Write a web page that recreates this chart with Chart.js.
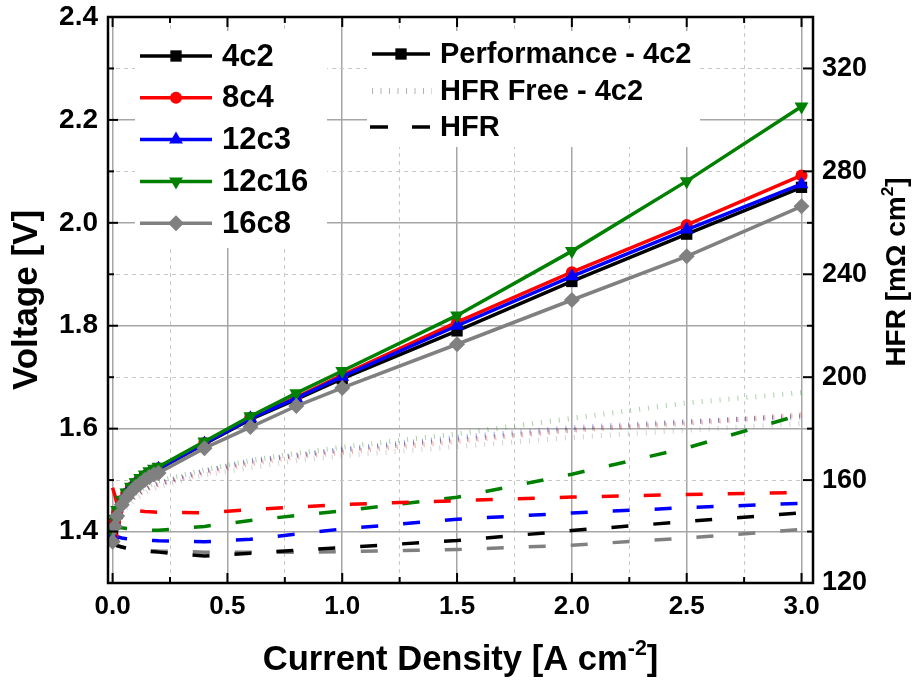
<!DOCTYPE html>
<html>
<head>
<meta charset="utf-8">
<script src="https://cdn.jsdelivr.net/npm/chart.js@4.4.1/dist/chart.umd.min.js"></script>
<style>
	html, body { margin: 0; padding: 0; background: #fff; }
</style>
</head>
<body>
<canvas id="polarization-chart" width="913" height="685"></canvas>
<script>
// current density [A cm-2]
const currentDensity = [0, 0.01, 0.02, 0.04, 0.06, 0.08, 0.1, 0.12, 0.14, 0.16, 0.18, 0.2, 0.4, 0.6, 0.8, 1.0, 1.5, 2.0, 2.5, 3.0];

// cell voltage [V]
const voltage4c2 = [1.39, 1.415, 1.435, 1.458, 1.472, 1.483, 1.492, 1.499, 1.506, 1.512, 1.517, 1.521, 1.570, 1.618, 1.657, 1.697, 1.790, 1.886, 1.978, 2.069];
const voltage8c4 = [1.39, 1.418, 1.437, 1.460, 1.474, 1.485, 1.494, 1.501, 1.508, 1.514, 1.519, 1.523, 1.572, 1.621, 1.661, 1.704, 1.807, 1.904, 1.996, 2.092];
const voltage12c3 = [1.39, 1.416, 1.436, 1.459, 1.473, 1.484, 1.493, 1.500, 1.507, 1.513, 1.518, 1.522, 1.571, 1.620, 1.659, 1.701, 1.800, 1.896, 1.987, 2.075];
const voltage12c16 = [1.40, 1.425, 1.442, 1.462, 1.476, 1.487, 1.496, 1.504, 1.511, 1.517, 1.522, 1.526, 1.575, 1.624, 1.669, 1.712, 1.820, 1.945, 2.081, 2.226];
const voltage16c8 = [1.38, 1.410, 1.430, 1.452, 1.466, 1.477, 1.486, 1.493, 1.500, 1.506, 1.511, 1.514, 1.562, 1.603, 1.644, 1.679, 1.764, 1.850, 1.935, 2.032];

// HFR free voltage [V]
const hfrFree4c2 = [1.39, 1.41, 1.425, 1.443, 1.455, 1.464, 1.471, 1.477, 1.482, 1.487, 1.491, 1.494, 1.518, 1.535, 1.548, 1.558, 1.578, 1.598, 1.612, 1.626];
const hfrFree8c4 = [1.39, 1.41, 1.422, 1.440, 1.452, 1.461, 1.468, 1.474, 1.479, 1.484, 1.488, 1.491, 1.513, 1.532, 1.545, 1.554, 1.575, 1.597, 1.610, 1.627];
const hfrFree12c3 = [1.39, 1.41, 1.424, 1.442, 1.454, 1.463, 1.470, 1.476, 1.481, 1.486, 1.490, 1.493, 1.517, 1.538, 1.548, 1.560, 1.583, 1.602, 1.614, 1.622];
const hfrFree12c16 = [1.40, 1.418, 1.430, 1.446, 1.458, 1.467, 1.474, 1.480, 1.485, 1.490, 1.494, 1.498, 1.520, 1.538, 1.552, 1.564, 1.590, 1.620, 1.650, 1.670];
const hfrFree16c8 = [1.38, 1.40, 1.415, 1.435, 1.447, 1.456, 1.463, 1.469, 1.474, 1.479, 1.483, 1.487, 1.510, 1.524, 1.538, 1.547, 1.565, 1.583, 1.597, 1.610];

// HFR [mOhm cm2]
const hfr4c2 = [137, 135.5, 134.5, 134, 133.5, 133.2, 133, 132.7, 132.5, 132.3, 132.1, 132, 130.5, 131.6, 132.7, 133.8, 136.5, 140.4, 143.9, 147.3];
const hfr8c4 = [157, 154, 150.5, 149, 148.5, 148.2, 148, 148, 147.8, 147.7, 147.6, 147.5, 147.3, 148.5, 149.5, 150.5, 152, 153.4, 154.4, 155.2];
const hfr12c3 = [140, 139, 138, 137.5, 137.2, 137, 136.9, 136.8, 136.7, 136.6, 136.5, 136.4, 136, 137, 139, 141, 144.8, 147.2, 149.3, 151];
const hfr12c16 = [144, 143, 142, 141.5, 141.2, 141, 140.9, 140.8, 140.7, 140.6, 140.5, 140.5, 142, 144.3, 146.2, 148, 153.3, 162.3, 172.5, 185.5];
const hfr16c8 = [137, 135.5, 134.5, 134, 133.7, 133.4, 133.2, 133, 132.8, 132.6, 132.5, 132.4, 132, 132, 132, 132.2, 133, 134.7, 137.5, 140.8];

const xTicks = [0, 0.5, 1.0, 1.5, 2.0, 2.5, 3.0];
const voltageTicks = [1.4, 1.6, 1.8, 2.0, 2.2, 2.4];
const hfrTicks = [120, 160, 200, 240, 280, 320];

const FONT = "'Liberation Sans', Arial, Helvetica, sans-serif";

const cells = [
	{ label: '4c2', color: '#000000', faint: 'rgba(0,0,0,0.35)', style: 'rect', radius: 8, rotation: 0, v: voltage4c2, free: hfrFree4c2, hfr: hfr4c2, order: 5 },
	{ label: '8c4', color: '#ff0000', faint: 'rgba(255,0,0,0.35)', style: 'circle', radius: 6, rotation: 0, v: voltage8c4, free: hfrFree8c4, hfr: hfr8c4, order: 4 },
	{ label: '12c3', color: '#0000ff', faint: 'rgba(0,0,255,0.35)', style: 'triangle', radius: 8, rotation: 0, v: voltage12c3, free: hfrFree12c3, hfr: hfr12c3, order: 3 },
	{ label: '12c16', color: '#008000', faint: 'rgba(0,128,0,0.35)', style: 'triangle', radius: 8, rotation: 180, v: voltage12c16, free: hfrFree12c16, hfr: hfr12c16, order: 2 },
	{ label: '16c8', color: '#808080', faint: 'rgba(128,128,128,0.35)', style: 'rectRot', radius: 8, rotation: 0, v: voltage16c8, free: hfrFree16c8, hfr: hfr16c8, order: 1 },
];

const toPoints = (ys) => ys.map((y, i) => ({ x: currentDensity[i], y: y }));

const datasets = [];
cells.forEach((c) => {
	datasets.push({
		label: c.label,
		data: toPoints(c.v),
		yAxisID: 'y',
		borderColor: c.color,
		backgroundColor: c.color,
		borderWidth: 3.5,
		pointStyle: c.style,
		pointRadius: c.radius,
		pointRotation: c.rotation,
		pointBorderWidth: 0,
		order: c.order,
	});
	datasets.push({
		label: 'HFR Free ' + c.label,
		data: toPoints(c.free),
		yAxisID: 'y',
		borderColor: c.faint,
		borderWidth: 5,
		borderDash: [1, 8],
		pointRadius: 0,
		order: 30,
	});
	datasets.push({
		label: 'HFR ' + c.label,
		data: toPoints(c.hfr),
		yAxisID: 'y1',
		borderColor: c.color,
		borderWidth: 3.5,
		borderDash: [17, 25],
		pointRadius: 0,
		order: 20,
	});
});

const isMajor = (v, step) => Math.abs(v / step - Math.round(v / step)) < 1e-6;

function drawRich(ctx, parts, x, y, size) {
	// parts: [text, isSuperscript]
	const widths = parts.map(([t, sup]) => {
		ctx.font = 'bold ' + (sup ? size * 0.62 : size) + 'px ' + FONT;
		return ctx.measureText(t).width;
	});
	const total = widths.reduce((a, b) => a + b, 0);
	let cx = x - total / 2;
	parts.forEach(([t, sup], i) => {
		ctx.font = 'bold ' + (sup ? size * 0.62 : size) + 'px ' + FONT;
		ctx.fillText(t, cx, sup ? y - size * 0.42 : y);
		cx += widths[i];
	});
}

const decorations = {
	id: 'decorations',
	afterDatasetsDraw(chart) {
		const { ctx, chartArea: a, scales } = chart;
		ctx.save();
		ctx.strokeStyle = '#000';
		ctx.lineCap = 'butt';

		// inward tick marks
		const tick = (x1, y1, x2, y2, w) => {
			ctx.lineWidth = w;
			ctx.beginPath();
			ctx.moveTo(x1, y1);
			ctx.lineTo(x2, y2);
			ctx.stroke();
		};
		scales.x.ticks.forEach((t) => {
			const px = scales.x.getPixelForValue(t.value);
			const len = isMajor(t.value, 0.5) ? 10 : 6;
			tick(px, a.bottom, px, a.bottom - len, 2);
			tick(px, a.top, px, a.top + len, 2);
		});
		scales.y.ticks.forEach((t) => {
			const py = scales.y.getPixelForValue(t.value);
			const len = isMajor(t.value, 0.2) ? 10 : 6;
			tick(a.left, py, a.left + len, py, 2);
		});
		scales.y1.ticks.forEach((t) => {
			const py = scales.y1.getPixelForValue(t.value);
			const len = isMajor(t.value, 40) ? 10 : 6;
			tick(a.right, py, a.right - len, py, 2);
		});

		// frame
		ctx.lineWidth = 2.5;
		ctx.strokeRect(a.left, a.top, a.right - a.left, a.bottom - a.top);

		// legend: samples
		ctx.fillStyle = '#fff';
		ctx.fillRect(135, 31, 192, 217);
		ctx.fillRect(367, 31, 333, 116);

		ctx.textBaseline = 'middle';
		ctx.textAlign = 'left';
		cells.forEach((c, i) => {
			const y = 56 + i * 41.8;
			ctx.strokeStyle = c.color;
			ctx.fillStyle = c.color;
			ctx.lineWidth = 3.5;
			ctx.beginPath();
			ctx.moveTo(140, y);
			ctx.lineTo(212, y);
			ctx.stroke();
			Chart.helpers.drawPoint(ctx, { pointStyle: c.style, radius: c.radius, rotation: c.rotation, borderWidth: 0 }, 176, y);
			ctx.fillStyle = '#000';
			ctx.font = 'bold 31px ' + FONT;
			ctx.fillText(c.label, 222, y + 1);
		});

		// legend: line types
		ctx.strokeStyle = '#000';
		ctx.fillStyle = '#000';
		ctx.lineWidth = 3.5;
		ctx.beginPath();
		ctx.moveTo(372, 54);
		ctx.lineTo(430, 54);
		ctx.stroke();
		Chart.helpers.drawPoint(ctx, { pointStyle: 'rect', radius: 8, rotation: 0, borderWidth: 0 }, 401, 54);

		ctx.strokeStyle = 'rgba(0,0,0,0.3)';
		ctx.lineWidth = 6;
		ctx.setLineDash([1, 7.5]);
		ctx.beginPath();
		ctx.moveTo(372, 91);
		ctx.lineTo(432, 91);
		ctx.stroke();

		ctx.strokeStyle = '#000';
		ctx.lineWidth = 3.5;
		ctx.setLineDash([18, 24]);
		ctx.beginPath();
		ctx.moveTo(370, 127);
		ctx.lineTo(432, 127);
		ctx.stroke();
		ctx.setLineDash([]);

		ctx.font = 'bold 29px ' + FONT;
		ctx.fillText('Performance - 4c2', 440, 55);
		ctx.fillText('HFR Free - 4c2', 440, 92);
		ctx.fillText('HFR', 440, 128);

		// axis titles
		ctx.textBaseline = 'alphabetic';
		ctx.fillStyle = '#000';
		drawRich(ctx, [['Current Density [A cm', false], ['-2', true], [']', false]], (a.left + a.right) / 2, 670, 34.6);

		ctx.save();
		ctx.translate(37, 300);
		ctx.rotate(-Math.PI / 2);
		drawRich(ctx, [['Voltage [V]', false]], 0, 0, 35);
		ctx.restore();

		ctx.save();
		ctx.translate(905, 272);
		ctx.rotate(-Math.PI / 2);
		drawRich(ctx, [['HFR [m\u03A9 cm', false], ['2', true], [']', false]], 0, 0, 28);
		ctx.restore();

		ctx.restore();
	},
};

// keep the plot frame where the reference has it
const fitVertical = (w) => (s) => { s.width = w; s.paddingTop = 0; s.paddingBottom = 0; };

new Chart(
	document.getElementById('polarization-chart'),
	{
		type: 'line',
		data: { datasets: datasets },
		options: {
			responsive: false,
			animation: false,
			devicePixelRatio: 1,
			layout: { padding: { top: 17, right: 0, bottom: 0, left: 0 } },
			plugins: {
				legend: { display: false },
				tooltip: { enabled: false },
			},
			elements: { line: { tension: 0 } },
			scales: {
				x: {
					type: 'linear',
					position: 'bottom',
					min: -0.02,
					max: 3.05,
					afterFit: (s) => { s.height = 102; s.paddingLeft = 0; s.paddingRight = 0; },
					ticks: {
						stepSize: 0.25,
						includeBounds: false,
						autoSkip: false,
						maxRotation: 0,
						padding: 8,
						color: '#000',
						font: { size: 26, weight: 'bold', family: FONT },
						callback: (v) => (xTicks.some((t) => Math.abs(t - v) < 1e-6) ? v.toFixed(1) : ''),
					},
					grid: {
						drawTicks: false,
						color: (c) => (c.tick && isMajor(c.tick.value, 0.5) ? '#a6a6a6' : '#c8c8c8'),
						lineWidth: (c) => (c.tick && isMajor(c.tick.value, 0.5) ? 1.5 : 1),
					},
					border: {
						display: false,
						dash: (c) => (c.tick && !isMajor(c.tick.value, 0.5) ? [4, 4] : []),
					},
				},
				y: {
					type: 'linear',
					position: 'left',
					min: 1.3,
					max: 2.4,
					afterFit: fitVertical(108),
					ticks: {
						stepSize: 0.1,
						autoSkip: false,
						padding: 10,
						color: '#000',
						font: { size: 28, weight: 'bold', family: FONT },
						callback: (v) => (voltageTicks.some((t) => Math.abs(t - v) < 1e-6) ? v.toFixed(1) : ''),
					},
					grid: {
						drawTicks: false,
						color: (c) => (c.tick && isMajor(c.tick.value, 0.2) ? '#a6a6a6' : '#c8c8c8'),
						lineWidth: (c) => (c.tick && isMajor(c.tick.value, 0.2) ? 1.5 : 1),
					},
					border: {
						display: false,
						dash: (c) => (c.tick && !isMajor(c.tick.value, 0.2) ? [4, 4] : []),
					},
				},
				y1: {
					type: 'linear',
					position: 'right',
					min: 120,
					max: 340,
					afterFit: fitVertical(100),
					ticks: {
						stepSize: 20,
						autoSkip: false,
						padding: 9,
						color: '#000',
						font: { size: 27, weight: 'bold', family: FONT },
						callback: (v) => (hfrTicks.includes(v) ? String(v) : ''),
					},
					grid: { drawOnChartArea: false, drawTicks: false },
					border: { display: false },
				},
			},
		},
		plugins: [decorations],
	}
);
</script>
</body>
</html>
